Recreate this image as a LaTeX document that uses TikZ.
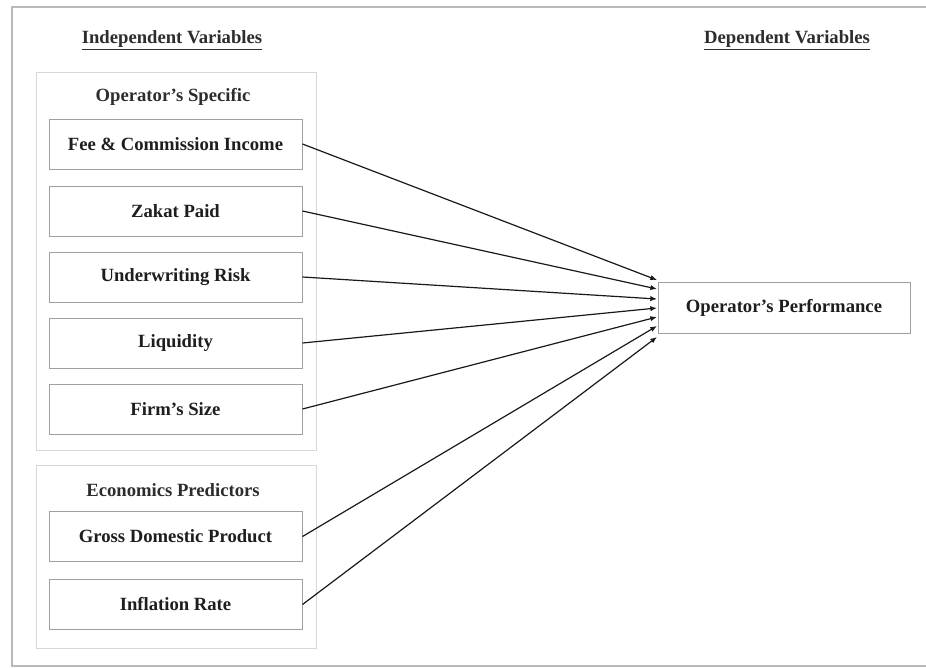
\documentclass[tikz,border=0pt]{standalone}
\usepackage{fontspec}
\setmainfont{Liberation Serif}
\usetikzlibrary{arrows.meta}

\tikzset{
  varbox/.style={draw={rgb, 255:red, 160; green, 160; blue, 160}, line width=0.75, fill=white,
    minimum width=189.75pt, minimum height=37.5pt, inner sep=0pt, font=\fontsize{14}{16}\selectfont\bfseries,
    text={rgb, 255:red, 30; green, 30; blue, 30}},
  headtext/.style={inner sep=0.75pt, font=\fontsize{14}{16}\selectfont\bfseries, text={rgb, 255:red, 45; green, 45; blue, 45}},
  link/.style={line width=0.9, color={rgb, 255:red, 25; green, 25; blue, 25}, -{Latex[length=5pt,width=4pt]}}
}

\begin{document}
\begin{tikzpicture}[x=0.75pt,y=0.75pt,yscale=-1,xscale=1]
\useasboundingbox (0,0) rectangle (926,668);

%Shape: Outer Frame
\draw [color={rgb, 255:red, 185; green, 185; blue, 185 }, line width=1.2] (926,7) -- (12,7) -- (12,666) -- (926,666) ;
%Shape: Rectangle (operator group)
\draw [color={rgb, 255:red, 215; green, 215; blue, 215 }, line width=0.75] (36,72) -- (316,72) -- (316,450) -- (36,450) -- cycle ;
%Shape: Rectangle (economics group)
\draw [color={rgb, 255:red, 215; green, 215; blue, 215 }, line width=0.75] (36,465) -- (316,465) -- (316,648) -- (36,648) -- cycle ;

% Text Node
\node [headtext] (indep) at (172,40) {\underline{Independent Variables}};
% Text Node
\node [headtext] (dep) at (787,40) {\underline{Dependent Variables}};
% Text Node
\node [headtext] (opspec) at (173,97) {Operator’s Specific};
% Text Node
\node [headtext] (econ) at (173,490) {Economics Predictors};

% Variable boxes
\node [varbox] (fee) at (175.5,144) {Fee \& Commission Income};
\node [varbox] (zakat) at (175.5,211) {Zakat Paid};
\node [varbox] (uwrisk) at (175.5,277) {Underwriting Risk};
\node [varbox] (liq) at (175.5,343) {Liquidity};
\node [varbox] (size) at (175.5,409) {Firm’s Size};
\node [varbox] (gdp) at (175.5,536.5) {Gross Domestic Product};
\node [varbox] (infl) at (175.5,604.5) {Inflation Rate};
\node [varbox, minimum width=189pt, minimum height=38.25pt] (perf) at (784,307.5) {Operator’s Performance};

% Arrow ends
\coordinate (in1) at (657,280) ;
\coordinate (in2) at (657,289) ;
\coordinate (in3) at (657,299) ;
\coordinate (in4) at (657,308) ;
\coordinate (in5) at (657,317) ;
\coordinate (in6) at (657,326) ;
\coordinate (in7) at (657,337) ;

%Straight Lines
\draw [link] (fee.east) -- (in1) ;
\draw [link] (zakat.east) -- (in2) ;
\draw [link] (uwrisk.east) -- (in3) ;
\draw [link] (liq.east) -- (in4) ;
\draw [link] (size.east) -- (in5) ;
\draw [link] (gdp.east) -- (in6) ;
\draw [link] (infl.east) -- (in7) ;

\end{tikzpicture}
\end{document}
